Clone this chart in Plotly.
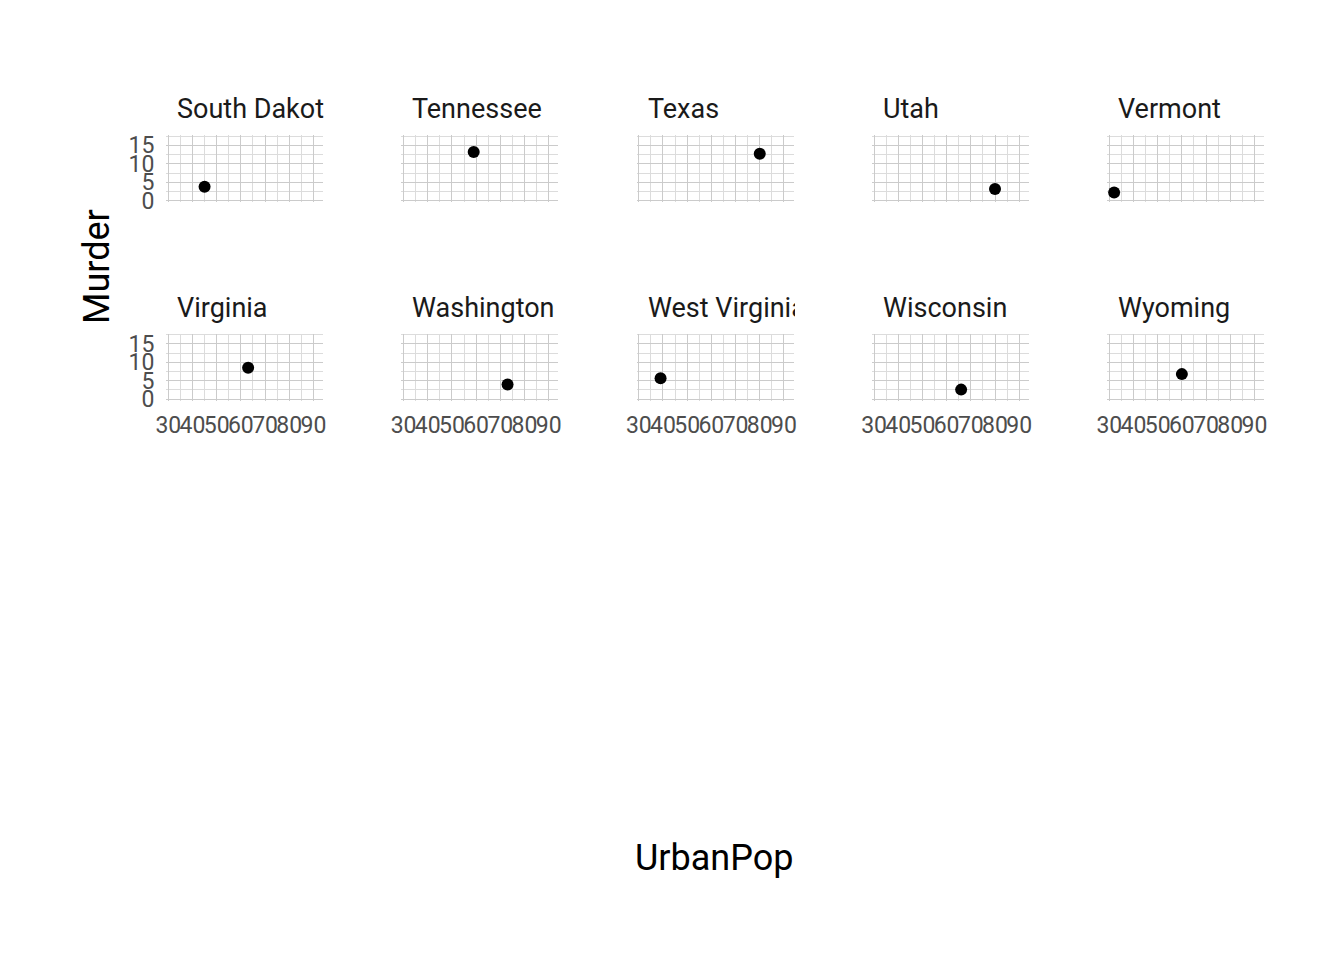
import plotly.graph_objects as go

states = ["South Dakota", "Tennessee", "Texas", "Utah", "Vermont",
          "Virginia", "Washington", "West Virginia", "Wisconsin", "Wyoming"]
urban_pop = [45, 59, 80, 80, 32, 63, 73, 39, 66, 60]
murder = [3.8, 13.2, 12.7, 3.2, 2.2, 8.5, 4.0, 5.7, 2.6, 6.8]

x_ticks = [30, 40, 50, 60, 70, 80, 90]
x_minor = [35, 45, 55, 65, 75, 85]
y_ticks = [0, 5, 10, 15]
y_minor = [2.5, 7.5, 12.5, 17.5]

W, H = 1344, 960
ncol = 5
col_left = [166 + c * 235.25 for c in range(ncol)]
panel_w = 157
row_top = [135.0, 333.5]
panel_h = 67.2
x_range = [29.05, 93.95]
y_range = [-0.4, 17.8]

grid_major = "#cbcbcb"
grid_minor = "#dcdcdc"
tick_font = dict(family="Roboto, sans-serif", size=23, color="#4d4d4d")

fig = go.Figure()
annotations = []

for i, st in enumerate(states):
    r, c = divmod(i, ncol)
    n = i + 1
    xa = "x" if n == 1 else f"x{n}"
    ya = "y" if n == 1 else f"y{n}"
    fig.add_trace(go.Scatter(
        x=[urban_pop[i]], y=[murder[i]], mode="markers",
        marker=dict(color="black", size=12),
        xaxis=xa, yaxis=ya, showlegend=False, hoverinfo="skip"))
    x0 = col_left[c] / W
    x1 = (col_left[c] + panel_w) / W
    y1 = 1 - row_top[r] / H
    y0 = 1 - (row_top[r] + panel_h) / H
    xkey = "xaxis" if n == 1 else f"xaxis{n}"
    ykey = "yaxis" if n == 1 else f"yaxis{n}"
    fig.update_layout(**{
        xkey: dict(domain=[x0, x1], anchor=ya, range=x_range,
                   tickmode="array", tickvals=x_ticks, tickangle=0,
                   showticklabels=(r == 1), tickfont=tick_font,
                   ticks="outside", ticklen=4, tickcolor="rgba(0,0,0,0)",
                   showgrid=True, gridcolor=grid_major, gridwidth=1,
                   minor=dict(tickvals=x_minor, showgrid=True,
                              gridcolor=grid_minor, gridwidth=1),
                   zeroline=False, showline=False, fixedrange=True,
                   automargin=False),
        ykey: dict(domain=[y0, y1], anchor=xa, range=y_range,
                   tickmode="array", tickvals=y_ticks, tickangle=0,
                   showticklabels=(c == 0), tickfont=tick_font,
                   ticks="outside", ticklen=6, tickcolor="rgba(0,0,0,0)",
                   showgrid=True, gridcolor=grid_major, gridwidth=1,
                   minor=dict(tickvals=y_minor, showgrid=True,
                              gridcolor=grid_minor, gridwidth=1),
                   zeroline=False, showline=False, fixedrange=True,
                   automargin=False),
    })
    annotations.append(dict(
        text=st, xref="paper", yref="paper",
        x=(col_left[c] + 9) / W, y=1 - (row_top[r] - 26) / H,
        xanchor="left", yanchor="middle", align="left",
        width=panel_w - 10, showarrow=False,
        font=dict(family="Roboto, sans-serif", size=27, color="#1a1a1a")))

annotations.append(dict(
    text="UrbanPop", xref="paper", yref="paper",
    x=714 / W, y=1 - 858 / H, xanchor="center", yanchor="middle",
    showarrow=False, font=dict(family="Roboto, sans-serif", size=36, color="black")))
annotations.append(dict(
    text="Murder", xref="paper", yref="paper",
    x=97 / W, y=1 - 266 / H, xanchor="center", yanchor="middle",
    textangle=-90, showarrow=False,
    font=dict(family="Roboto, sans-serif", size=36, color="black")))

fig.update_layout(
    width=W, height=H,
    margin=dict(l=0, r=0, t=0, b=0),
    paper_bgcolor="white", plot_bgcolor="white",
    annotations=annotations,
    showlegend=False,
)

fig.write_html("out.html", config={"displayModeBar": False})
